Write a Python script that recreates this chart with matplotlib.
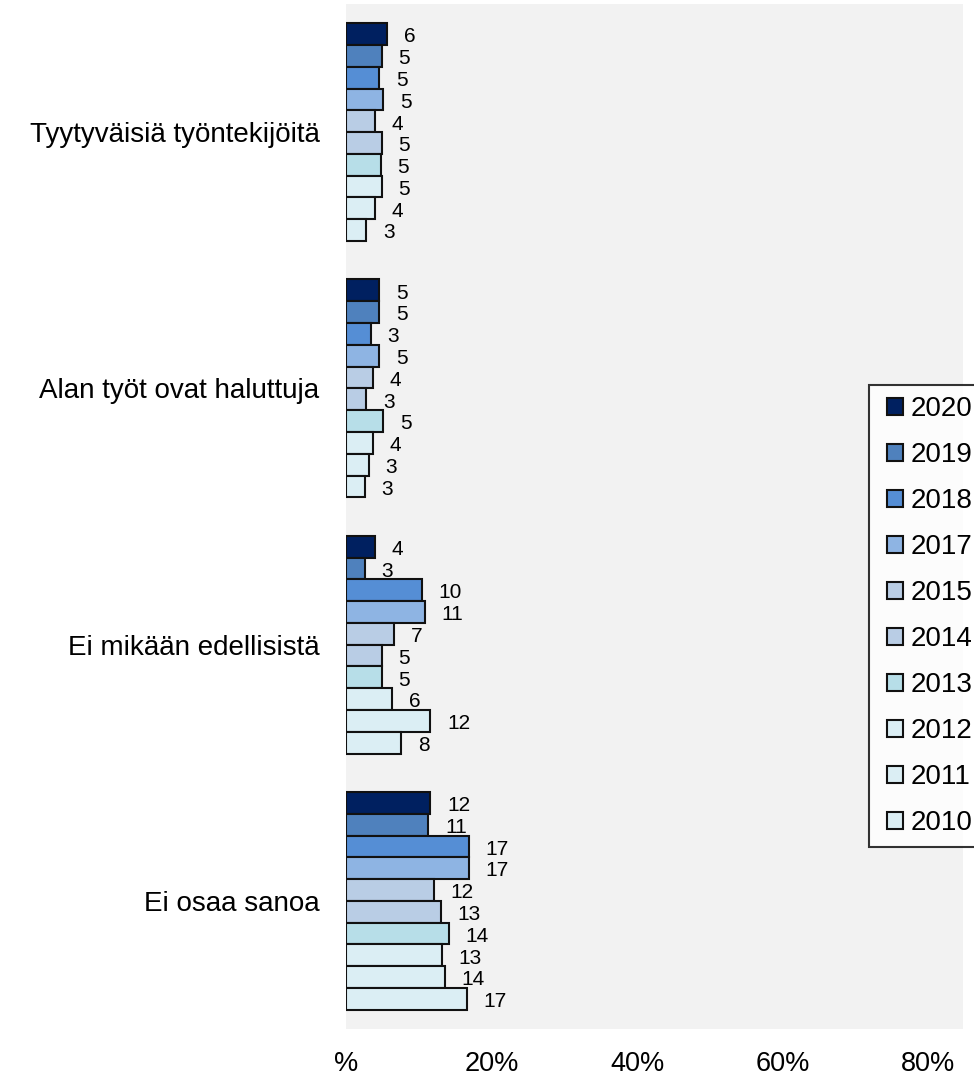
import matplotlib
matplotlib.use('Agg')
import matplotlib.pyplot as plt
from matplotlib.patches import Patch
from matplotlib.legend_handler import HandlerPatch
import numpy as np

plt.rcParams['font.family'] = ['Liberation Sans', 'DejaVu Sans']

categories = ['Tyytyväisiä työntekijöitä', 'Alan työt ovat haluttuja',
              'Ei mikään edellisistä', 'Ei osaa sanoa']
years = ['2020', '2019', '2018', '2017', '2015', '2014', '2013', '2012', '2011', '2010']

v2020 = [5.7, 4.6, 4.0, 11.6]
v2019 = [4.9, 4.6, 2.6, 11.3]
v2018 = [4.6, 3.4, 10.4, 16.9]
v2017 = [5.1, 4.6, 10.8, 16.9]
v2015 = [4.0, 3.7, 6.6, 12.1]
v2014 = [4.9, 2.8, 4.9, 13.0]
v2013 = [4.8, 5.1, 4.9, 14.1]
v2012 = [4.9, 3.7, 6.3, 13.2]
v2011 = [4.0, 3.1, 11.6, 13.6]
v2010 = [2.8, 2.6, 7.6, 16.6]
series = [v2020, v2019, v2018, v2017, v2015, v2014, v2013, v2012, v2011, v2010]

colors = ['#002060', '#4f81bd', '#558ed5', '#8eb4e3', '#b9cde5',
          '#b9cde5', '#b7dee8', '#dbeef4', '#dbeef4', '#dbeef4']

xticks = [0, 20, 40, 60, 80]
xticklabels = ['%', '20%', '40%', '60%', '80%']

W, H = 974, 1081
fig = plt.figure(figsize=(W / 100, H / 100), dpi=100)
ax = fig.add_axes([346 / W, 1 - 1029 / H, (963 - 346) / W, (1029 - 4) / H])
ax.set_facecolor('#f2f2f2')

EDGE = '#111111'
n = len(years)
group_w = 0.85
bh = group_w / n
ypos = np.arange(len(categories))
for j, (yr, vals, c) in enumerate(zip(years, series, colors)):
    y = ypos + (j - (n - 1) / 2) * bh
    ax.barh(y, vals, height=bh, color=c, edgecolor=EDGE,
            linewidth=1.5, zorder=2)
    for yy, v in zip(y, vals):
        ax.annotate(f'{v:.0f}', xy=(v, yy), xytext=(12, -2),
                    textcoords='offset points', ha='left', va='center',
                    fontsize=15, color='#000000')

ax.set_ylim(len(categories) - 0.5, -0.5)
ax.set_xlim(0, 84.8)
ax.set_yticks(ypos)
ax.set_yticklabels(categories, fontsize=20)
ax.set_xticks(xticks)
ax.set_xticklabels(xticklabels, fontsize=19.5)
ax.tick_params(axis='y', length=0, pad=19)
ax.tick_params(axis='x', length=0, pad=16)
for s in ax.spines.values():
    s.set_visible(False)

handles = [Patch(facecolor=c, edgecolor=EDGE, linewidth=1.5, label=yr)
           for yr, c in zip(years, colors)]
leg = fig.legend(handles=handles, loc='upper left',
                 bbox_to_anchor=(869 / W, 1 - 385 / H),
                 fontsize=20, frameon=True, fancybox=False,
                 handlelength=0.81, handleheight=0.55, handletextpad=0.3,
                 labelspacing=0.72, borderpad=0.4, borderaxespad=0,
                 handler_map={Patch: HandlerPatch(xpad=0.26)})
leg.get_frame().set_edgecolor('#000000')
leg.get_frame().set_linewidth(1.5)
leg.get_frame().set_facecolor('white')

fig.savefig('out.png', dpi=100)
